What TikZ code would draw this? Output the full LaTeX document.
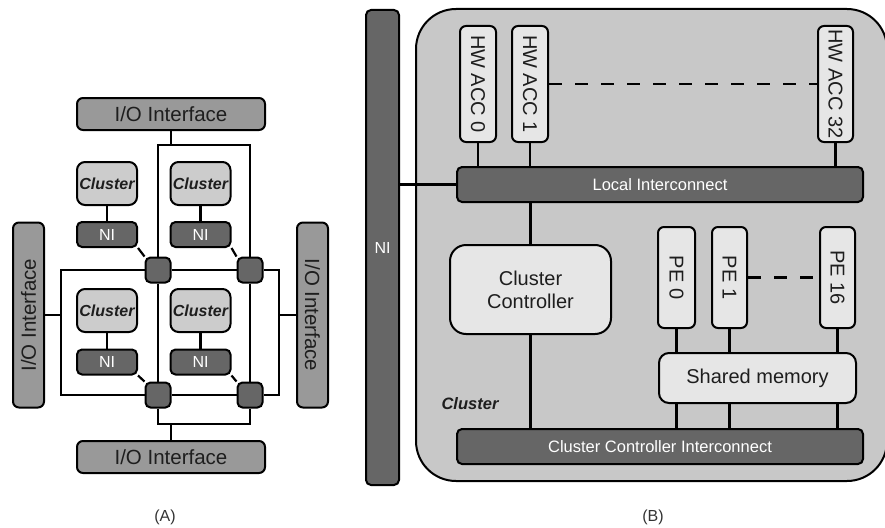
\documentclass[tikz,border=0pt]{standalone}
\usepackage{fontspec}
\setmainfont{Liberation Sans}
\pgfdeclarelayer{back}
\pgfdeclarelayer{background}
\pgfsetlayers{back,background,main}
\definecolor{darkg}{HTML}{666666}
\definecolor{midg}{HTML}{999999}
\definecolor{clg}{HTML}{CCCCCC}
\definecolor{bigg}{HTML}{C8C8C8}
\definecolor{lightg}{HTML}{E6E6E6}
\definecolor{txt}{HTML}{1E1E1E}
\begin{document}
\begin{tikzpicture}[x=1pt,y=-1pt,
  box/.style={draw=black, line width=2pt, inner sep=0pt, rounded corners=6pt, text=txt},
  iobox/.style={box, fill=midg, font=\fontsize{20.5}{24}\selectfont},
  clbox/.style={box, fill=clg, rounded corners=8pt, font=\fontsize{16}{19}\selectfont\bfseries\itshape, minimum width=60pt, minimum height=43pt},
  nibox/.style={box, fill=darkg, rounded corners=5pt, text=white, font=\fontsize{16}{19}\selectfont, minimum width=60pt, minimum height=25pt},
  router/.style={box, fill=darkg, rounded corners=5pt, minimum width=25pt, minimum height=25pt},
  accbox/.style={box, fill=lightg, font=\fontsize{20}{24}\selectfont},
  pebox/.style={box, fill=lightg, font=\fontsize{20}{24}\selectfont},
  bus/.style={box, fill=darkg, rounded corners=5pt, text=white, font=\fontsize{16.5}{19}\selectfont, minimum width=406pt, minimum height=35pt},
  wire/.style={line width=2.2pt, draw=black},
  dwire/.style={line width=2.6pt, draw=black, dash pattern=on 13pt off 13pt},
  capt/.style={text=black!80, font=\fontsize{16}{19}\selectfont}
]
\useasboundingbox (0,0) rectangle (885,527);

% ---------------- (A) ----------------
\node[iobox, minimum width=188pt, minimum height=32pt] (ioT) at (171,114) {I/O Interface};
\node[iobox, minimum width=188pt, minimum height=32pt] (ioB) at (171,457) {I/O Interface};
\node[iobox, minimum width=185pt, minimum height=31pt, rotate=90] (ioL) at (28.5,315) {I/O Interface};
\node[iobox, minimum width=185pt, minimum height=31pt, rotate=-90] (ioR) at (312.5,315) {I/O Interface};

\node[clbox] (c1) at (107,183.5) {Cluster};
\node[clbox] (c2) at (200.5,183.5) {Cluster};
\node[clbox] (c3) at (107,310.5) {Cluster};
\node[clbox] (c4) at (200.5,310.5) {Cluster};
\node[nibox] (n1) at (107,234.5) {NI};
\node[nibox] (n2) at (200.5,234.5) {NI};
\node[nibox] (n3) at (107,362) {NI};
\node[nibox] (n4) at (200.5,362) {NI};
\node[router] (r1) at (158,270) {};
\node[router] (r2) at (250,270) {};
\node[router] (r3) at (158,395) {};
\node[router] (r4) at (250,395) {};

\coordinate (tl) at (158,145);
\coordinate (tr) at (250,145);
\coordinate (bl) at (158,424);
\coordinate (br) at (250,424);
\coordinate (lt) at (61,270);
\coordinate (lb) at (61,395);
\coordinate (rt) at (279,270);
\coordinate (rb) at (279,395);
\coordinate (tj) at (171,145);
\coordinate (bj) at (171,424);
\coordinate (lj) at (61,315);
\coordinate (rj) at (279,315);

\begin{pgfonlayer}{background}
\draw[wire] (r1) -- (tl) -- (tr) -- (r2);
\draw[wire] (r1) -- (r3);
\draw[wire] (r2) -- (r4);
\draw[wire] (r3) -- (bl) -- (br) -- (r4);
\draw[wire] (r1) -- (r2);
\draw[wire] (r3) -- (r4);
\draw[wire] (r1) -- (lt) -- (lb) -- (r3);
\draw[wire] (r2) -- (rt) -- (rb) -- (r4);
\draw[wire] (ioT) -- (tj);
\draw[wire] (ioB) -- (bj);
\draw[wire] (ioL) -- (lj);
\draw[wire] (ioR) -- (rj);
\draw[wire] (c1) -- (n1);
\draw[wire] (c2) -- (n2);
\draw[wire] (c3) -- (n3);
\draw[wire] (c4) -- (n4);
\draw[wire] (n1.south east) -- (r1.north west);
\draw[wire] (n2.south east) -- (r2.north west);
\draw[wire] (n3.south east) -- (r3.north west);
\draw[wire] (n4.south east) -- (r4.north west);
\end{pgfonlayer}

\node[capt] (capA) at (165,517) {(A)};

% ---------------- (B) ----------------
\begin{pgfonlayer}{back}
\node[box, fill=bigg, rounded corners=40pt, minimum width=471pt, minimum height=472pt] (big) at (651.5,245) {};
\end{pgfonlayer}

\node[box, fill=darkg, rounded corners=5pt, text=white, font=\fontsize{16}{19}\selectfont, minimum width=33pt, minimum height=475pt] (ni) at (382.5,247.5) {NI};

\node[accbox, rotate=-90, minimum width=116pt, minimum height=36pt] (acc0) at (478,84) {HW ACC 0};
\node[accbox, rotate=-90, minimum width=116pt, minimum height=36pt] (acc1) at (530,84) {HW ACC 1};
\node[accbox, rotate=-90, minimum width=116pt, minimum height=35pt] (acc32) at (835.5,84) {HW ACC 32};

\node[bus] (li) at (660,184.5) {Local Interconnect};
\node[bus] (cci) at (660,446.5) {Cluster Controller Interconnect};

\node[box, fill=lightg, rounded corners=16pt, minimum width=161pt, minimum height=89pt, align=center, font=\fontsize{20}{23}\selectfont] (cc) at (530.5,289.5) {Cluster\\Controller};

\node[pebox, rotate=-90, minimum width=101pt, minimum height=37pt] (pe0) at (676.5,277.5) {PE 0};
\node[pebox, rotate=-90, minimum width=101pt, minimum height=35pt] (pe1) at (729.5,277.5) {PE 1};
\node[pebox, rotate=-90, minimum width=101pt, minimum height=35pt] (pe16) at (837.5,277.5) {PE 16};

\node[box, fill=lightg, rounded corners=10pt, minimum width=197pt, minimum height=50pt, font=\fontsize{20}{24}\selectfont] (sm) at (757.5,378) {Shared memory};

\node[text=txt, font=\fontsize{16.5}{19}\selectfont\bfseries\itshape] (cl) at (470,404) {Cluster};

\begin{pgfonlayer}{background}
\draw[wire] (acc0.east) -- (acc0.east |- li.north);
\draw[wire] (acc1.east) -- (acc1.east |- li.north);
\draw[wire] (acc32.east) -- (acc32.east |- li.north);
\draw[wire] (li.west) -- (li.west -| ni.east);
\draw[wire] (cc.north) -- (cc.north |- li.south);
\draw[wire] (cc.south) -- (cc.south |- cci.north);
\draw[wire] (pe0.east) -- (pe0.east |- sm.north);
\draw[wire] (pe1.east) -- (pe1.east |- sm.north);
\draw[wire] (pe16.east) -- (pe16.east |- sm.north);
\draw[wire] (pe0.east |- sm.south) -- (pe0.east |- cci.north);
\draw[wire] (pe1.east |- sm.south) -- (pe1.east |- cci.north);
\draw[wire] (pe16.east |- sm.south) -- (pe16.east |- cci.north);
\draw[dwire] (acc1.north) -- (acc32.south);
\draw[dwire] (pe1.north) -- (pe16.south);
\end{pgfonlayer}

\node[capt] (capB) at (653,517) {(B)};
\end{tikzpicture}
\end{document}
